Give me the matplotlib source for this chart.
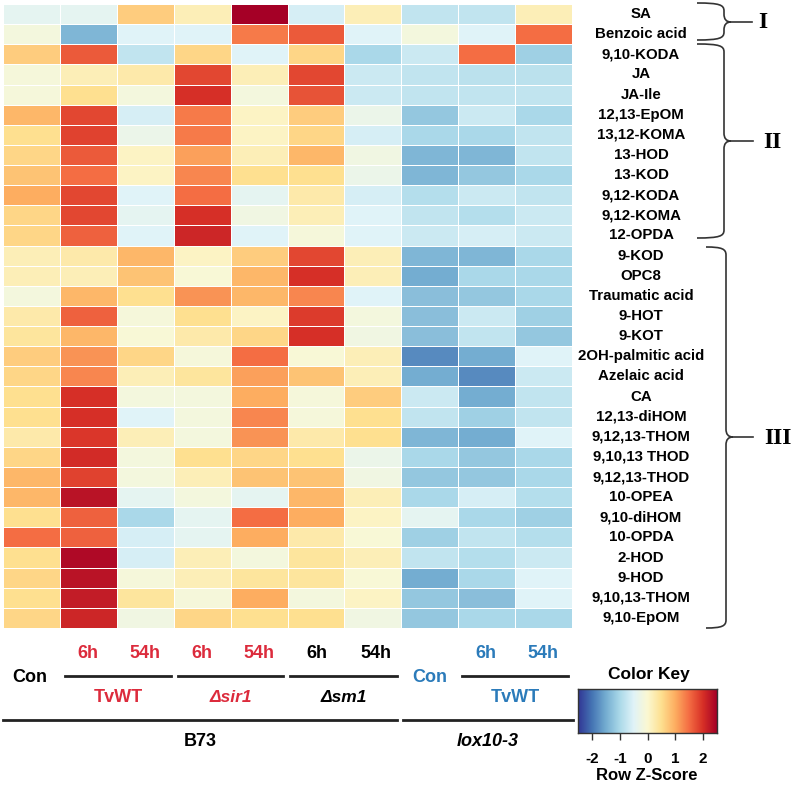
import matplotlib
matplotlib.use("Agg")
import matplotlib.pyplot as plt
import numpy as np
from matplotlib.path import Path
from matplotlib.patches import PathPatch
from matplotlib.colors import LinearSegmentedColormap

plt.rcParams['font.family'] = ['Liberation Sans', 'DejaVu Sans']
plt.rcParams['font.weight'] = 'bold'

# Datos: metabolitos (filas) y tratamientos (columnas)
cluster_I_names = ['SA', 'Benzoic acid']
cluster_II_names = ['9,10-KODA', 'JA', 'JA-Ile', '12,13-EpOM', '13,12-KOMA', '13-HOD',
                    '13-KOD', '9,12-KODA', '9,12-KOMA', '12-OPDA']
cluster_III_names = ['9-KOD', 'OPC8', 'Traumatic acid', '9-HOT', '9-KOT', '2OH-palmitic acid',
                     'Azelaic acid', 'CA', '12,13-diHOM', '9,12,13-THOM', '9,10,13 THOD',
                     '9,12,13-THOD', '10-OPEA', '9,10-diHOM', '10-OPDA', '2-HOD', '9-HOD',
                     '9,10,13-THOM', '9,10-EpOM']

# columnas: B73 Con, TvWT 6h, 54h, sir1 6h, 54h, sm1 6h, 54h, lox10-3 Con, TvWT 6h, 54h
cluster_I = [
    [-0.4, -0.4, 0.7, 0.2, 2.5, -0.6, 0.2, -0.8, -0.8, 0.2],
    [-0.15, -1.4, -0.5, -0.5, 1.4, 1.65, -0.5, -0.15, -0.5, 1.5],
]
cluster_II = [
    [0.7, 1.65, -0.8, 0.6, -0.5, 0.6, -1.0, -0.7, 1.5, -1.1],
    [-0.1, 0.2, 0.3, 1.8, 0.2, 1.8, -0.7, -0.8, -0.85, -0.85],
    [-0.1, 0.5, -0.15, 2.0, -0.15, 1.7, -0.7, -0.8, -0.8, -0.8],
    [0.9, 1.8, -0.6, 1.4, 0.1, 0.7, -0.3, -1.2, -0.7, -1.0],
    [0.5, 1.85, -0.3, 1.4, 0.1, 0.6, -0.6, -1.0, -1.0, -0.8],
    [0.6, 1.65, 0.1, 1.1, 0.2, 0.9, -0.2, -1.4, -1.4, -0.8],
    [0.8, 1.5, 0.1, 1.3, 0.5, 0.5, -0.3, -1.4, -1.2, -1.0],
    [1.0, 1.8, -0.5, 1.5, -0.4, 0.3, -0.6, -0.9, -0.7, -0.8],
    [0.6, 1.8, -0.4, 2.0, -0.2, 0.2, -0.5, -0.8, -0.9, -0.7],
    [0.6, 1.6, -0.5, 2.1, -0.5, -0.1, -0.5, -0.7, -0.6, -0.7],
]
cluster_III = [
    [0.2, 0.3, 0.9, 0.1, 0.7, 1.8, 0.2, -1.4, -1.4, -1.0],
    [0.2, 0.2, 0.8, -0.05, 0.9, 2.0, 0.2, -1.5, -1.0, -1.0],
    [-0.15, 0.9, 0.5, 1.2, 0.9, 1.3, -0.5, -1.3, -1.2, -1.0],
    [0.3, 1.6, -0.1, 0.5, 0.1, 1.9, -0.15, -1.3, -0.7, -1.1],
    [0.4, 0.9, -0.05, 0.3, 0.6, 2.0, -0.2, -1.3, -0.8, -1.2],
    [0.7, 1.2, 0.6, -0.1, 1.5, -0.05, 0.2, -1.8, -1.5, -0.5],
    [0.6, 1.3, 0.2, 0.4, 1.1, 0.8, 0.2, -1.5, -1.8, -0.7],
    [0.5, 2.0, -0.15, -0.15, 1.0, -0.1, 0.7, -0.7, -1.5, -0.8],
    [0.5, 2.0, -0.5, -0.15, 1.3, -0.1, 0.5, -0.8, -1.1, -0.8],
    [0.3, 1.95, 0.2, -0.15, 1.2, 0.3, 0.5, -1.4, -1.5, -0.5],
    [0.6, 2.05, -0.15, 0.5, 0.6, 0.5, -0.3, -1.0, -1.2, -1.0],
    [0.9, 1.85, -0.15, 0.2, 0.8, 0.8, -0.2, -1.2, -1.2, -1.0],
    [0.9, 2.3, -0.4, -0.15, -0.4, 0.9, 0.2, -1.0, -0.6, -0.9],
    [0.5, 1.6, -1.0, -0.4, 1.5, 1.0, 0.1, -0.4, -1.0, -1.1],
    [1.5, 1.6, -0.6, -0.4, 1.0, 0.3, -0.05, -1.1, -0.8, -0.9],
    [0.5, 2.4, -0.6, 0.2, -0.15, 0.4, 0.2, -0.8, -0.9, -0.7],
    [0.6, 2.3, -0.1, 0.2, 0.4, 0.4, -0.05, -1.5, -1.0, -0.5],
    [0.5, 2.2, 0.4, -0.1, 1.0, -0.15, 0.1, -1.2, -1.3, -0.5],
    [0.6, 2.1, -0.2, 0.6, 0.5, 0.5, -0.2, -1.2, -1.0, -1.0],
]

row_names = cluster_I_names + cluster_II_names + cluster_III_names
z = np.array(cluster_I + cluster_II + cluster_III)
cmap = LinearSegmentedColormap.from_list(
    'rowz', ['#313695', '#4575b4', '#74add1', '#abd9e9', '#e0f3f8', '#fbf8d2',
             '#fee090', '#fdae61', '#f46d43', '#d73027', '#a50026'])
vmin, vmax = -2.5, 2.5

RED = '#dc2b3c'
BLUE = '#2b7bba'
INK = '#222222'

fig = plt.figure(figsize=(8.0, 7.86), dpi=100)
W, H = 800, 786

# capa de anotaciones en pixeles
ov = fig.add_axes([0, 0, 1, 1])
ov.set_xlim(0, W)
ov.set_ylim(H, 0)
ov.axis('off')

# heatmap
hx0, hx1, hy0, hy1 = 3, 572, 4, 628
ax = fig.add_axes([hx0 / W, 1 - hy1 / H, (hx1 - hx0) / W, (hy1 - hy0) / H])
ax.pcolormesh(z, cmap=cmap, vmin=vmin, vmax=vmax, edgecolors='white', linewidth=0.7)
ax.set_xlim(0, z.shape[1])
ax.set_ylim(z.shape[0], 0)
ax.axis('off')

# nombres de filas
row_h = (hy1 - hy0) / len(row_names)
for i, name in enumerate(row_names):
    ov.text(641, hy0 + (i + 0.5) * row_h, name, ha='center', va='center', fontsize=10.8,
            fontweight='bold', color='black')


def brace(x0, xv, ytop, ybot, ymid, xtip, xend):
    r = 8
    verts = [(x0, ytop), (xv - 4, ytop), (xv, ytop + 2), (xv, ytop + r),
             (xv, ymid - r),
             (xv, ymid - 3), (xv + 2, ymid), (xtip, ymid),
             (xv + 2, ymid), (xv, ymid + 3), (xv, ymid + r),
             (xv, ybot - r),
             (xv, ybot - 2), (xv - 4, ybot), (x0, ybot)]
    codes = [Path.MOVETO, Path.CURVE4, Path.CURVE4, Path.CURVE4,
             Path.LINETO,
             Path.CURVE4, Path.CURVE4, Path.CURVE4,
             Path.CURVE4, Path.CURVE4, Path.CURVE4,
             Path.LINETO,
             Path.CURVE4, Path.CURVE4, Path.CURVE4]
    ov.add_patch(PathPatch(Path(verts, codes), fill=False, lw=1.2, color='#333333'))
    ov.plot([xtip, xend], [ymid, ymid], color='#333333', lw=1.2)


brace(697, 724, 3, 40, 22, 731, 752)
brace(697, 724, 44, 238, 141, 731, 753)
brace(706, 726, 247, 628, 437, 733, 753)
serif = ['Liberation Serif', 'DejaVu Serif']
ov.text(763, 23, 'I', family=serif, fontsize=17, fontweight='bold', ha='center', va='center')
ov.text(772, 142, 'II', family=serif, fontsize=17, fontweight='bold', ha='center', va='center')
ov.text(778, 438, 'III', family=serif, fontsize=17, fontweight='bold', ha='center', va='center')

# etiquetas de tratamientos
fs = 13
y_time, y_line, y_grp, y_long, y_gen = 653, 676, 698, 720, 741
ov.text(30, 677, 'Con', fontsize=fs, ha='center', va='center', color='black')
groups = [
    (88, 145, 65, 171, 'TvWT', RED, 'normal'),
    (202, 259, 178, 283, '\u0394sir1', RED, 'italic'),
    (317, 376, 290, 397, '\u0394sm1', 'black', 'italic'),
    (486, 543, 462, 568, 'TvWT', BLUE, 'normal'),
]
for x6, x54, l0, l1, name, col, style in groups:
    ov.text(x6, y_time, '6h', fontsize=fs, ha='center', va='center', color=col)
    ov.text(x54, y_time, '54h', fontsize=fs, ha='center', va='center', color=col)
    ov.plot([l0, l1], [y_line, y_line], color=INK, lw=2)
    ov.text((l0 + l1) / 2, y_grp, name, fontsize=12.5 if style == 'italic' else fs,
            ha='center', va='center', color=col, style=style)
ov.text(430, 677, 'Con', fontsize=fs, ha='center', va='center', color=BLUE)
ov.plot([3, 397], [y_long, y_long], color=INK, lw=2)
ov.plot([403, 573], [y_long, y_long], color=INK, lw=2)
ov.text(200, y_gen, 'B73', fontsize=fs, ha='center', va='center', color='black')
ov.text(488, y_gen, 'lox10-3', fontsize=fs, ha='center', va='center', color='black',
        style='italic')

# color key
cx0, cx1, cy0, cy1 = 578, 717, 689, 733
cax = fig.add_axes([cx0 / W, 1 - cy1 / H, (cx1 - cx0) / W, (cy1 - cy0) / H])
grad = np.linspace(vmin, vmax, 256).reshape(1, -1)
cax.imshow(grad, aspect='auto', cmap=cmap, vmin=vmin, vmax=vmax,
           extent=[vmin, vmax, 0, 1])
cax.set_yticks([])
cax.set_xticks([-2, -1, 0, 1, 2])
cax.set_xticklabels(['-2', '-1', '0', '1', '2'], fontsize=11, fontweight='bold')
cax.tick_params(axis='x', direction='out', length=5, width=1, pad=9, color='#333333')
for s in cax.spines.values():
    s.set_color('#333333')
    s.set_linewidth(1)
ov.text(649, 674, 'Color Key', fontsize=12.5, ha='center', va='center')
ov.text(647, 775, 'Row Z-Score', fontsize=12, ha='center', va='center')

fig.savefig('out.png', dpi=100)
